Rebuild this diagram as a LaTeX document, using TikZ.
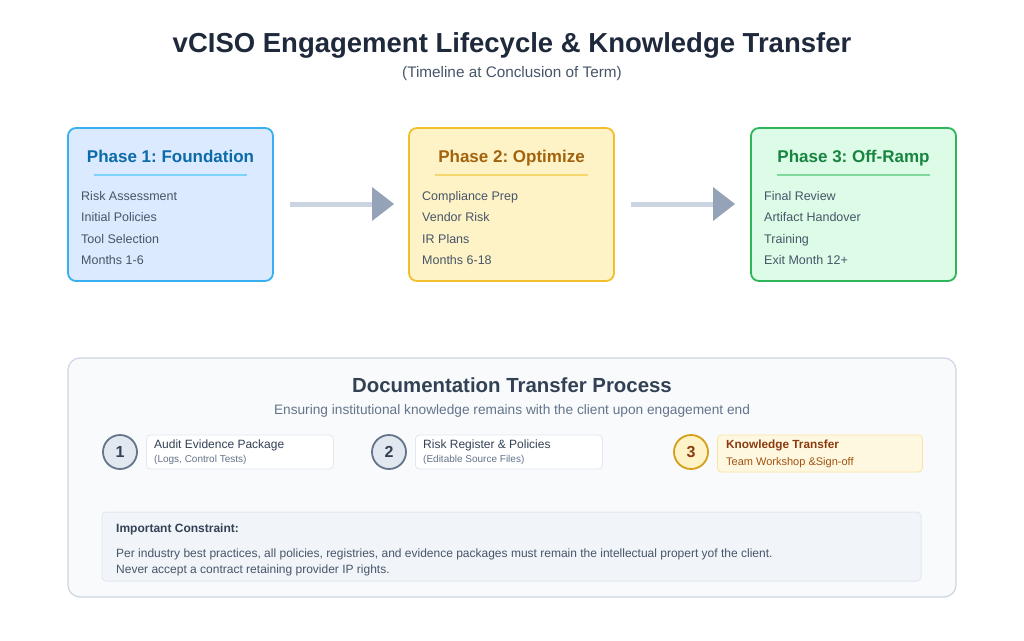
\documentclass[tikz,border=0pt]{standalone}
\usepackage{fontspec}
\setmainfont{Liberation Sans}
\frenchspacing
\definecolor{ink}{HTML}{1E293B}
\definecolor{txt}{HTML}{475569}
\definecolor{sub}{HTML}{64748B}
\definecolor{bluefill}{HTML}{DBEAFE}
\definecolor{blueline}{HTML}{38B0F0}
\definecolor{bluehead}{HTML}{0A6BA8}
\definecolor{blueul}{HTML}{7DD3FC}
\definecolor{ambfill}{HTML}{FEF3C7}
\definecolor{ambline}{HTML}{F2BE2C}
\definecolor{ambhead}{HTML}{A2620E}
\definecolor{ambul}{HTML}{F5D76E}
\definecolor{grnfill}{HTML}{DCFCE7}
\definecolor{grnline}{HTML}{2EB55A}
\definecolor{grnhead}{HTML}{188440}
\definecolor{grnul}{HTML}{7ED99A}
\definecolor{shaft}{HTML}{CBD5E1}
\definecolor{head}{HTML}{94A3B8}
\definecolor{panel}{HTML}{F8FAFC}
\definecolor{panelline}{HTML}{CBD5E1}
\definecolor{circfill}{HTML}{E2E8F0}
\definecolor{circline}{HTML}{64748B}
\definecolor{boxline}{HTML}{E2E8F0}
\definecolor{kfill}{HTML}{FFF8E1}
\definecolor{kline}{HTML}{FDE3A0}
\definecolor{kcirc}{HTML}{D69E1A}
\definecolor{khead}{HTML}{8B3A0F}
\definecolor{ksub}{HTML}{A0520F}
\definecolor{cfill}{HTML}{F1F5F9}
\definecolor{ctxt}{HTML}{334155}
\tikzset{
  phasebox/.style={draw, line width=1.8pt, rounded corners=8pt, minimum width=205pt, minimum height=153pt, inner sep=0pt},
  phasehead/.style={font=\bfseries\fontsize{17}{20}\selectfont, anchor=base},
  item/.style={font=\fontsize{12.5}{15}\selectfont, text=txt, anchor=base west, inner sep=0pt},
  numcirc/.style={circle, draw, line width=1.8pt, minimum size=34pt, inner sep=0pt, font=\bfseries\fontsize{16}{18}\selectfont},
  docbox/.style={draw, line width=0.8pt, rounded corners=4pt, minimum height=34pt, inner sep=0pt, anchor=west},
  doctitle/.style={font=\fontsize{12}{14}\selectfont, text=ctxt, anchor=base west, inner sep=0pt},
  docsub/.style={font=\fontsize{10}{12}\selectfont, text=sub, anchor=base west, inner sep=0pt},
  ctext/.style={font=\fontsize{12}{14}\selectfont, text=txt, anchor=base west, inner sep=0pt},
}
\begin{document}
\begin{tikzpicture}[x=1pt,y=-1pt]
\useasboundingbox[fill=white] (0,0) rectangle (1024,640);
% title
\node[font=\bfseries\fontsize{27.5}{30}\selectfont, text=ink, anchor=base] (title) at (512,52) {vCISO Engagement Lifecycle \& Knowledge Transfer};
\node[font=\fontsize{15.3}{17}\selectfont, text=txt, anchor=base] (subtitle) at (512,77) {(Timeline at Conclusion of Term)};
% phase boxes
\node[phasebox, fill=bluefill, draw=blueline] (p1) at (170.5,204.5) {};
\node[phasebox, fill=ambfill, draw=ambline] (p2) at (511.5,204.5) {};
\node[phasebox, fill=grnfill, draw=grnline] (p3) at (853.5,204.5) {};
\node[phasehead, text=bluehead] (h1) at (170.5,162) {Phase 1: Foundation};
\node[phasehead, text=ambhead] (h2) at (511.5,162) {Phase 2: Optimize};
\node[phasehead, text=grnhead] (h3) at (853.5,162) {Phase 3: Off-Ramp};
\draw[blueul, line width=1.2pt] (94,175) -- (247,175);
\draw[ambul, line width=1.2pt] (435,175) -- (588,175);
\draw[grnul, line width=1.2pt] (777,175) -- (930,175);
\node[item] (a1) at (81,200) {Risk Assessment};
\node[item] (a2) at (81,221.5) {Initial Policies};
\node[item] (a3) at (81,243) {Tool Selection};
\node[item] (a4) at (81,264.5) {Months 1-6};
\node[item] (b1) at (422,200) {Compliance Prep};
\node[item] (b2) at (422,221.5) {Vendor Risk};
\node[item] (b3) at (422,243) {IR Plans};
\node[item] (b4) at (422,264.5) {Months 6-18};
\node[item] (c1) at (764,200) {Final Review};
\node[item] (c2) at (764,221.5) {Artifact Handover};
\node[item] (c3) at (764,243) {Training};
\node[item] (c4) at (764,264.5) {Exit Month 12+};
% arrows
\coordinate (s1) at (290,204);
\coordinate (t1) at (372,204);
\coordinate (s2) at (631,204);
\coordinate (t2) at (713,204);
\draw[shaft, line width=5pt] (s1) -- (t1);
\fill[head] (372,187) -- (394,204) -- (372,221) -- cycle;
\draw[shaft, line width=5pt] (s2) -- (t2);
\fill[head] (713,187) -- (735,204) -- (713,221) -- cycle;
% bottom panel
\draw[panelline, fill=panel, line width=1.2pt, rounded corners=12pt] (68,358) rectangle (956,597);
\node[font=\bfseries\fontsize{20.4}{23}\selectfont, text=ctxt, anchor=base] (dtitle) at (512,392) {Documentation Transfer Process};
\node[font=\fontsize{13.7}{16}\selectfont, text=sub, anchor=base] (dsub) at (512,414) {Ensuring institutional knowledge remains with the client upon engagement end};
% step 1
\node[numcirc, fill=circfill, draw=circline, text=ctxt] (n1) at (120,452) {1};
\node[docbox, fill=white, draw=boxline, minimum width=187pt] (d1) at (146,452) {};
\node[doctitle] (d1t) at (154,448.5) {Audit Evidence Package};
\node[docsub] (d1s) at (154,462) {(Logs, Control Tests)};
% step 2
\node[numcirc, fill=circfill, draw=circline, text=ctxt] (n2) at (389,452) {2};
\node[docbox, fill=white, draw=boxline, minimum width=187pt] (d2) at (415,452) {};
\node[doctitle] (d2t) at (423,448.5) {Risk Register \& Policies};
\node[docsub] (d2s) at (423,462) {(Editable Source Files)};
% step 3
\node[numcirc, fill=ambfill, draw=kcirc, text=khead] (n3) at (691,452) {3};
\node[docbox, fill=kfill, draw=kline, minimum width=205pt, minimum height=37pt] (d3) at (717,453.5) {};
\node[doctitle, font=\bfseries\fontsize{11.8}{14}\selectfont, text=khead] (d3t) at (726,448.5) {Knowledge Transfer};
\node[doctitle, font=\fontsize{11}{13}\selectfont, text=ksub] (d3s) at (726,465) {Team Workshop \&Sign-off};
% constraint box
\draw[boxline, fill=cfill, line width=1pt, rounded corners=4pt] (102,512) rectangle (921,581);
\node[ctext, font=\bfseries\fontsize{12}{14}\selectfont, text=ctxt] (ct) at (116,532) {Important Constraint:};
\node[ctext] (cl1) at (116,557) {Per industry best practices, all policies, registries, and evidence packages must remain the intellectual propert yof the client.};
\node[ctext] (cl2) at (116,573) {Never accept a contract retaining provider IP rights.};
\end{tikzpicture}
\end{document}
